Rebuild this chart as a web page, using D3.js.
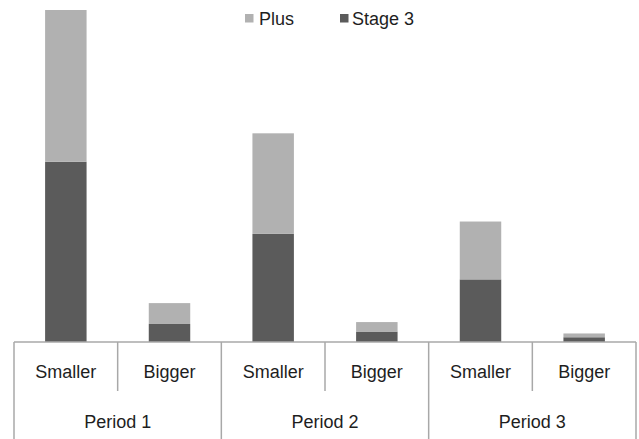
<!DOCTYPE html>
<html>
<head>
<meta charset="utf-8">
<script src="https://cdn.jsdelivr.net/npm/d3@7"></script>
<style>
  html, body { margin: 0; padding: 0; background: #fff; }
  svg { display: block; }
  text { font-family: "Liberation Sans", Arial, sans-serif; fill: #1e1e1e; }
</style>
</head>
<body>
<svg id="chart" width="639" height="439"></svg>
<script>
const periods = ["Period 1", "Period 2", "Period 3"];
const sizes = ["Smaller", "Bigger"];
const series = ["Stage 3", "Plus"];
// values listed per period: [Smaller, Bigger]
const stage3Values = [19.0, 1.9, 11.4, 1.1, 6.6, 0.5];
const plusValues   = [16.0, 2.2, 10.6, 1.0, 6.1, 0.4];
const colors = { "Plus": "#b1b1b1", "Stage 3": "#5b5b5b" };

const W = 639, H = 439;
const left = 14, right = 636, baseY = 342, topY = 10;
const svg = d3.select("#chart");

const cats = [];
periods.forEach(p => sizes.forEach(s => cats.push(p + "|" + s)));
const rows = cats.map((c, i) => ({ key: c, period: c.split("|")[0], size: c.split("|")[1],
  "Stage 3": stage3Values[i], "Plus": plusValues[i] }));

const x = d3.scaleBand().domain(cats).range([left, right]).paddingInner(0).paddingOuter(0);
const xp = d3.scaleBand().domain(periods).range([left, right]);
const y = d3.scaleLinear().domain([0, 35]).range([baseY, topY]);

const stack = d3.stack().keys(series)(rows);
const bw = x.bandwidth() * 0.4;

svg.append("g").selectAll("g").data(stack).join("g")
  .attr("fill", d => colors[d.key])
  .selectAll("rect").data(d => d).join("rect")
  .attr("x", d => x(d.data.key) + (x.bandwidth() - bw) / 2)
  .attr("width", bw)
  .attr("y", d => y(d[1]))
  .attr("height", d => y(d[0]) - y(d[1]));

// axis lines
const ax = svg.append("g").attr("stroke", "#a8a8a8").attr("stroke-width", 1.5).attr("fill", "none");
ax.append("line").attr("x1", left).attr("x2", right).attr("y1", baseY).attr("y2", baseY);
// period boundaries (full height)
const pb = periods.map(p => xp(p)).concat([right]);
pb.forEach(v => ax.append("line").attr("x1", v).attr("x2", v).attr("y1", baseY).attr("y2", H));
// size boundaries inside each period (short)
periods.forEach(p => {
  const v = x(p + "|" + sizes[1]);
  ax.append("line").attr("x1", v).attr("x2", v).attr("y1", baseY).attr("y2", 391);
});

// category labels
svg.append("g").selectAll("text").data(rows).join("text")
  .attr("x", d => x(d.key) + x.bandwidth() / 2)
  .attr("y", 372)
  .attr("text-anchor", "middle")
  .attr("dominant-baseline", "central")
  .style("font-size", "18px")
  .text(d => d.size);

svg.append("g").selectAll("text").data(periods).join("text")
  .attr("x", d => xp(d) + xp.bandwidth() / 2)
  .attr("y", 422)
  .attr("text-anchor", "middle")
  .attr("dominant-baseline", "central")
  .style("font-size", "18px")
  .text(d => d);

// legend
const legendItems = [{ key: "Plus", x: 245, tx: 259 }, { key: "Stage 3", x: 340, tx: 352 }];
const lg = svg.append("g");
legendItems.forEach(it => {
  lg.append("rect").attr("x", it.x).attr("y", 14).attr("width", 8.5).attr("height", 8.5)
    .attr("fill", colors[it.key]);
  lg.append("text").attr("x", it.tx).attr("y", 19).attr("dominant-baseline", "central")
    .style("font-size", "18px").text(it.key);
});
</script>
</body>
</html>
